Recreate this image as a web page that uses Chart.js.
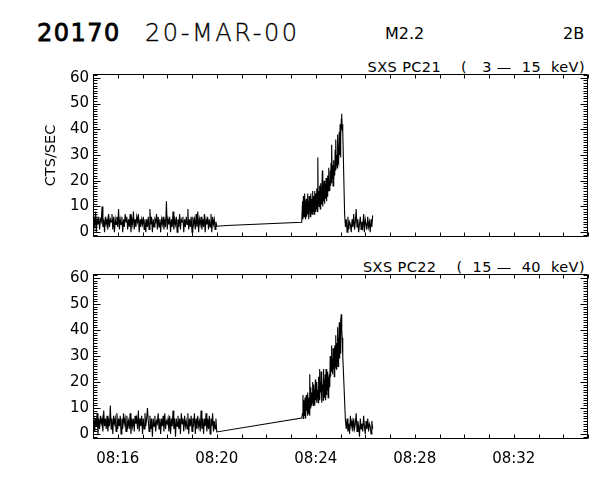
<!DOCTYPE html>
<html><head><meta charset="utf-8">
<script src="https://cdn.jsdelivr.net/npm/chart.js@4"></script>
<style>
body{margin:0;background:#fff;width:600px;height:480px;overflow:hidden;position:relative;font-family:"DejaVu Sans",sans-serif;}
.t{position:absolute;white-space:pre;color:#000;line-height:1;}
canvas{position:absolute;left:0;}
</style></head><body>
<div class="t" style="left:37px;top:21px;font-size:24px;letter-spacing:1.5px;-webkit-text-stroke:0.8px #000;">20170</div>
<div class="t" style="left:145px;top:21px;font-size:24px;letter-spacing:2.6px;font-family:'DejaVu Sans ExtraLight','DejaVu Sans';font-weight:200;-webkit-text-stroke:0.3px #000;">20-MAR-00</div>
<div class="t" style="left:385px;top:26px;font-size:16px;">M2.2</div>
<div class="t" style="left:563px;top:26px;font-size:16px;">2B</div>
<div class="t" style="right:15px;top:60px;font-size:14.5px;letter-spacing:0.4px;">SXS PC21    (   3 —  15  keV)</div>
<div class="t" style="right:15px;top:260px;font-size:14.5px;letter-spacing:0.4px;">SXS PC22    (  15 —  40  keV)</div>
<canvas id="c1" width="600" height="250" style="top:0"></canvas>
<canvas id="c2" width="600" height="230" style="top:250px"></canvas>
<script>
// time in seconds after 08:15:00
const xMin = 0, xMax = 1200;
const xTickStep = 60;
const xLabelValues = [60, 300, 540, 780, 1020];
const xLabelTexts = ['08:16', '08:20', '08:24', '08:28', '08:32'];
const yMin = -1.9, yMax = 61.5;
const yMajorTicks = [0, 10, 20, 30, 40, 50, 60];

// PC21 (3 - 15 keV)
const pc21QuietStart = 0, pc21QuietStep = 2;
const pc21Quiet = [
  1,6,2,8,0,5,3,6,1,5, 4,10,2,5,0,6,3,5,1,7,
  2,5,4,7,1,6,0,5,3,6, 2,9,1,5,3,6,0,5,2,7,
  4,6,1,5,2,7,0,5,3,8, 1,5,2,6,4,7,0,5,2,5,
  3,6,1,5,0,5,2,6,1,9, 3,6,0,5,2,5,4,7,1,6,
  2,5,0,5,3,6,1,5,2,12, 1,5,3,6,0,5,2,8,1,5,
  3,6,0,5,2,7,1,5,4,6, 0,5,2,6,3,9,1,5,2,6,
  0,6,3,5,1,7,2,8,0,5, 3,6,1,5,2,7,0,5,3,6,
  1,5,2,7,0,6,3,5,1,4, 2.3];
const pc21GapTimes = [324, 506];
const pc21GapVals = [2.6, 3.8];
const pc21FlareStart = 508, pc21FlareStep = 1;
const pc21Flare = [
  12,5,14,7,6,15,8,5,11,13, 6,9,15,7,12,5,14,8,10,6,
  15,8,13,7,16,9,8,14,7,16, 10,8,15,9,13,17,8,29,11,16,
  10,18,12,9,19,11,17,13,24,10, 18,12,20,11,16,19,13,21,12,18,
  14,22,16,25,17,20,16,24,18,27, 19,34,21,26,18,28,20,25,22,32,
  24,36,26,30,25,38,28,33,27,39, 30,42,29,37,44,46,40,42,39];
const pc21DecayStart = 610, pc21DecayStep = 2;
const pc21Decay = [7,2,5,0,6,1,4,3,0,5, 2,7,1,4,9,2,5,0,3,6, 1,4,2,7,0,5,3,1,6,2, 4,0,5,2,6.5];

// PC22 (15 - 40 keV)
const pc22QuietStart = 0, pc22QuietStep = 2;
const pc22Quiet = [
  2,7,1,6,3,8,0,6,2,7, 4,6,1,9,3,6,2,7,1,5,
  3,11,2,6,0,7,4,6,1,8, 2,6,3,7,0,6,2,8,4,6,
  1,7,3,5,2,8,0,6,3,6, 1,7,4,6,2,9,1,6,3,7,
  0,6,2,8,3,6,10,5,1,7, 2,6,-1,6,3,7,1,5,4,8,
  2,6,0,6,3,7,1,8,2,5, 4,6,1,7,0,6,3,9,2,6,
  -1,6,3,7,2,6,0,8,4,6, 1,7,3,5,2,8,0,6,3,7,
  1,6,4,8,0,6,2,7,3,5, 1,9,2,6,0,6,3,8,1,6,
  2,7,0,6,3,8,1,5,2,6, 0.8];
const pc22GapTimes = [506];
const pc22GapVals = [6.2];
const pc22FlareStart = 508, pc22FlareStep = 1;
const pc22Flare = [
  8,15,6,13,9,7,14,10,6,15, 9,13,7,16,8,12,14,7,23,10,
  18,11,16,12,20,13,11,19,14,17, 11,21,13,18,12,20,14,17,12,22,
  15,25,13,20,16,24,12,22,17,19, 13,25,16,21,14,23,13,25,15,20,
  17,24,14,22,16,23,18,30,22,27, 34,24,29,23,33,25,31,22,34,27,
  26,38,25,35,28,41,26,37,30,43, 29,40,31,44,46,40,37,33,30];
const pc22DecayStart = 612, pc22DecayStep = 2;
const pc22Decay = [5,2,6,1,4,0,7,3,5,1, 6,2,4,8,1,5,3,-1,6,2, 4,1,7,3,0,5,2,6,1,4, 3,0,5,2];

function seg(t0, dt, vals){ return vals.map((v,i)=>({x:t0+i*dt, y:v})); }
function pairs(ts, vs){ return ts.map((t,i)=>({x:t, y:vs[i]})); }

const pts21 = [].concat(seg(pc21QuietStart,pc21QuietStep,pc21Quiet), pairs(pc21GapTimes,pc21GapVals),
  seg(pc21FlareStart,pc21FlareStep,pc21Flare), seg(pc21DecayStart,pc21DecayStep,pc21Decay));
const pts22 = [].concat(seg(pc22QuietStart,pc22QuietStep,pc22Quiet), pairs(pc22GapTimes,pc22GapVals),
  seg(pc22FlareStart,pc22FlareStep,pc22Flare), seg(pc22DecayStart,pc22DecayStep,pc22Decay));

const framePlugin = {
  id: 'frame',
  afterDraw(chart){
    const {ctx, chartArea:a, scales:{x, y}} = chart;
    const L = Math.round(a.left)+0.5, R = Math.round(a.right)-0.5, T = Math.round(a.top)+0.5, B = Math.round(a.bottom)-0.5;
    ctx.save();
    ctx.strokeStyle = '#000'; ctx.lineWidth = 1;
    ctx.beginPath();
    ctx.moveTo(L,T); ctx.lineTo(R,T); ctx.lineTo(R,B); ctx.lineTo(L,B); ctx.closePath();
    for (let v = xMin; v <= xMax; v += xTickStep){
      const px = Math.round(x.getPixelForValue(v))+0.5;
      ctx.moveTo(px,B); ctx.lineTo(px,B-4);
      ctx.moveTo(px,T); ctx.lineTo(px,T+4);
    }
    for (let v = Math.ceil(yMin); v <= yMax; v += 1){
      const py = Math.round(y.getPixelForValue(v))+0.5;
      const len = (v % 10 === 0) ? 7 : 4;
      ctx.moveTo(L,py); ctx.lineTo(L+len,py);
      ctx.moveTo(R,py); ctx.lineTo(R-len,py);
    }
    ctx.stroke();
    ctx.restore();
  }
};

function makeChart(id, pts, opts){
  return new Chart(document.getElementById(id), {
    type: 'line',
    data: { datasets: [{ data: pts, borderColor:'#000', borderWidth:1.1, pointRadius:0, tension:0, fill:false }] },
    options: {
      responsive:false, animation:false, devicePixelRatio:1,
      layout:{ padding:{ left:opts.padLeft, right:12, top:opts.top, bottom:0 } },
      plugins:{ legend:{display:false}, tooltip:{enabled:false} },
      scales:{
        x:{ type:'linear', min:xMin, max:xMax,
            grid:{display:false, drawTicks:false}, border:{display:false},
            afterBuildTicks:s=>{ const t=[]; for(let v=xMin; v<=xMax; v+=xTickStep) t.push({value:v}); s.ticks=t; },
            afterFit:s=>{ s.height = opts.xHeight; },
            ticks:{ display:opts.xLabels, autoSkip:false, maxRotation:0, padding:11, color:'#000',
                    font:{family:'DejaVu Sans', size:15},
                    callback:v=>{ const i = xLabelValues.indexOf(v); return i>=0 ? xLabelTexts[i] : ''; } } },
        y:{ type:'linear', min:yMin, max:yMax,
            grid:{display:false, drawTicks:false}, border:{display:false},
            afterBuildTicks:s=>{ s.ticks = yMajorTicks.map(v=>({value:v})); },
            afterFit:s=>{ s.width = 93 - opts.padLeft; },
            title:{ display:opts.yTitle, text:'CTS/SEC', color:'#000', font:{family:'DejaVu Sans', size:14.5}, padding:{top:4,bottom:4} },
            ticks:{ padding:4, color:'#000', font:{family:'DejaVu Sans', size:15} } }
      }
    },
    plugins:[framePlugin]
  });
}

makeChart('c1', pts21, {top:74, xHeight:11, xLabels:false, yTitle:true, padLeft:39});
makeChart('c2', pts22, {top:24, xHeight:41, xLabels:true, yTitle:false, padLeft:39});
</script>
</body></html>
